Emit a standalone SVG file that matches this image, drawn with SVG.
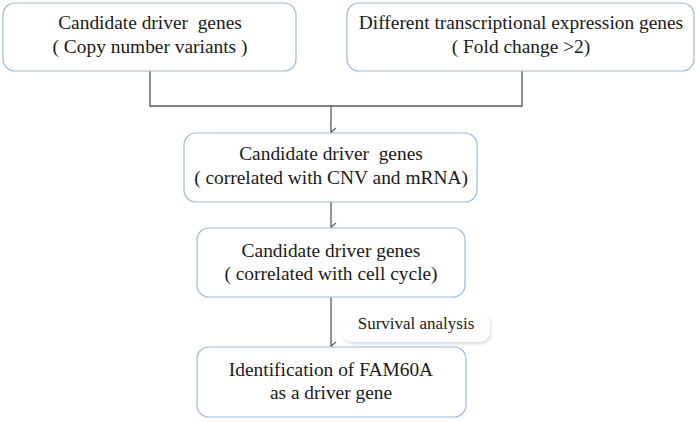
<svg xmlns="http://www.w3.org/2000/svg" width="697" height="423" viewBox="0 0 697 423">
<style>
.box{fill:#fff;stroke:#9bbbd9;stroke-width:1.2}
.t{font-family:'Times New Roman',Times,'Liberation Serif',Tinos,serif;font-size:19.4px;fill:#1a1a1a;text-anchor:middle;white-space:pre}
.s{font-family:'Times New Roman',Times,'Liberation Serif',Tinos,serif;font-size:17px;fill:#1a1a1a;text-anchor:middle}
.ln{fill:none;stroke:#595959;stroke-width:1.3}
</style>
<defs>
<marker id="ah" markerWidth="10" markerHeight="10" refX="5" refY="8" orient="auto" markerUnits="userSpaceOnUse" viewBox="0 0 10 10">
<path d="M1,3 L5,8 L9,3" fill="none" stroke="#595959" stroke-width="1.2"/>
</marker>
<filter id="sh" x="-10%" y="-20%" width="130%" height="160%">
<feDropShadow dx="1" dy="2" stdDeviation="1.5" flood-color="#c8d4e0" flood-opacity="0.8"/>
</filter>
</defs>
<g id="connectors">
<path class="ln" d="M150,71 V106 H522 V71"/>
<path class="ln" d="M331,106 V132" marker-end="url(#ah)"/>
<path class="ln" d="M331,202 V227" marker-end="url(#ah)"/>
<path class="ln" d="M331,297 V346" marker-end="url(#ah)"/>
</g>
<g id="n1">
<rect class="box" x="3" y="3" width="293" height="68" rx="12"/>
<text class="t" x="150" y="29">Candidate driver  genes</text>
<text class="t" x="150" y="53">( Copy number variants )</text>
</g>
<g id="n2">
<rect class="box" x="347" y="3" width="347" height="68" rx="12"/>
<text class="t" x="521" y="29">Different transcriptional expression genes</text>
<text class="t" x="521" y="53">( Fold change &gt;2)</text>
</g>
<g id="n3">
<rect class="box" x="184" y="133" width="293" height="69" rx="12"/>
<text class="t" x="331" y="160">Candidate driver  genes</text>
<text class="t" x="331" y="184">( correlated with CNV and mRNA)</text>
</g>
<g id="n4">
<rect class="box" x="197" y="228" width="268" height="69" rx="12"/>
<text class="t" x="331" y="257">Candidate driver genes</text>
<text class="t" x="331" y="280">( correlated with cell cycle)</text>
</g>
<g id="label">
<rect x="342" y="312" width="148" height="30" rx="10" fill="#fff" filter="url(#sh)"/>
<text class="s" x="416" y="329">Survival analysis</text>
</g>
<g id="n5">
<rect class="box" x="197" y="347" width="269" height="70" rx="12"/>
<text class="t" x="331" y="376">Identification of FAM60A</text>
<text class="t" x="331" y="399">as a driver gene</text>
</g>
</svg>
